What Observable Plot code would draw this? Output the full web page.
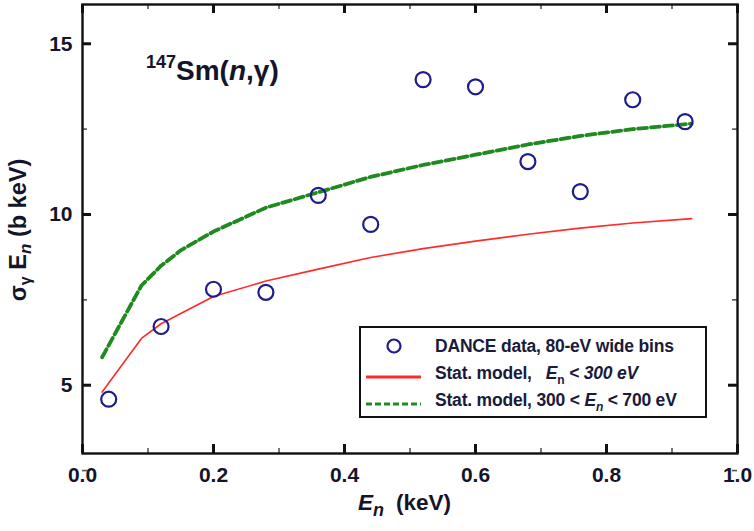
<!DOCTYPE html>
<html><head><meta charset="utf-8">
<script src="https://cdn.jsdelivr.net/npm/d3@7"></script>
<script src="https://cdn.jsdelivr.net/npm/@observablehq/plot@0.6"></script>
<style>
html,body{margin:0;padding:0;background:#fff;}
#wrap{position:relative;width:754px;height:531px;font-family:"Liberation Sans",Arial,sans-serif;color:#111;}
#wrap svg.plot{position:absolute;left:0;top:0;}
.ov{position:absolute;white-space:nowrap;font-weight:bold;}
</style></head>
<body><div id="wrap"></div>
<script>
// Data
const dataX = [0.04,0.12,0.20,0.28,0.36,0.44,0.52,0.60,0.68,0.76,0.84,0.92];
const dataY = [4.59,6.72,7.81,7.72,10.56,9.71,13.95,13.74,11.55,10.67,13.36,12.72];
const modelX = [0.03,0.09,0.12,0.15,0.20,0.28,0.36,0.44,0.52,0.60,0.68,0.76,0.84,0.93];
const redY   = [4.80,6.37,6.80,7.10,7.60,8.05,8.40,8.74,9.00,9.22,9.42,9.60,9.75,9.88];
const greenY = [5.82,7.92,8.50,8.95,9.50,10.20,10.65,11.10,11.45,11.75,12.05,12.30,12.50,12.66];
const xMajor = [0,0.2,0.4,0.6,0.8,1.0];
const xMinor = [0.1,0.3,0.5,0.7,0.9];
const yMajor = [5,10,15];
const yMinor = [2.5,7.5,12.5];
const legendLabels = ["DANCE data, 80-eV wide bins","Stat. model,","Stat. model, 300 <"];

const pts = dataX.map((x,i)=>({x, y:dataY[i]}));
const red = modelX.map((x,i)=>({x, y:redY[i]}));
const green = modelX.map((x,i)=>({x, y:greenY[i]}));

const W = 754, H = 531, ML = 82, MR = 17, MT = 4, MB = 78;
const FW = W - ML - MR, FH = H - MT - MB;
function inTicks(values, axis, side, len, sw, color) {
  const o = {stroke: color, strokeWidth: sw};
  if (axis === "x") {
    o.x = d => d;
    if (side === "bottom") o.insetTop = FH - len; else o.insetBottom = FH - len;
    return Plot.ruleX(values, o);
  } else {
    o.y = d => d;
    if (side === "left") o.insetRight = FW - len; else o.insetLeft = FW - len;
    return Plot.ruleY(values, o);
  }
}
const MJ = 9, MN = 5;
const plot = Plot.plot({
  width: W, height: H,
  marginLeft: ML, marginRight: MR, marginTop: MT, marginBottom: MB,
  style: {fontFamily: '"Liberation Sans", Arial, sans-serif', background: "#fff"},
  x: {domain: [0, 1.0]},
  y: {domain: [3.0, 16.15]},
  marks: [
    Plot.line(red, {x:"x", y:"y", stroke:"#ff2a2a", strokeWidth:1.6}),
    Plot.line(green, {x:"x", y:"y", stroke:"#1f8a1f", strokeWidth:3.8, strokeDasharray:"9,4"}),
    Plot.dot(pts, {x:"x", y:"y", r:7.5, stroke:"#1c1c8c", strokeWidth:2.2, fill:"none"}),
    Plot.axisX({ticks: xMajor, tickSize: 0, tickPadding: 14, tickFormat: d3.format(".1f"), fontSize: 21, fontWeight: "bold", label: null, fill:"#14142a"}),
    Plot.axisY({ticks: yMajor, tickSize: 0, tickPadding: 10, tickFormat: d3.format("d"), fontSize: 21, fontWeight: "bold", label: null, fill:"#14142a"}),
    inTicks(xMajor, "x", "bottom", MJ, 3, "#111"),
    inTicks(xMajor, "x", "top", MJ, 3, "#111"),
    inTicks(yMajor, "y", "left", MJ, 3, "#111"),
    inTicks(yMajor, "y", "right", MJ, 3, "#111"),
    inTicks(xMinor, "x", "bottom", MN, 1.6, "#555"),
    inTicks(xMinor, "x", "top", MN, 1.6, "#555"),
    inTicks(yMinor, "y", "left", MN, 1.6, "#555"),
    inTicks(yMinor, "y", "right", MN, 1.6, "#555"),
    Plot.frame({stroke:"#111", strokeWidth: 2.4})
  ]
});
plot.classList.add("plot");
const wrap = document.getElementById("wrap");
wrap.appendChild(plot);

function ov(html, css){ const d=document.createElement("div"); d.className="ov"; d.innerHTML=html; Object.assign(d.style, css); wrap.appendChild(d); return d; }

// annotation
ov('<span style="font-size:18px;position:relative;top:-12px;">147</span>Sm(<i>n</i>,γ)', {left:"146px", top:"55px", fontSize:"28px", fontWeight:"bold", color:"#14142a"});
// x label
ov('<i>E<sub style="font-size:18px;vertical-align:-6px;">n</sub></i><span style="margin-left:12px">(keV)</span>', {left:"358px", top:"490px", fontSize:"22.5px", color:"#14142a"});
// y label
ov('σ<sub style="font-size:16px;vertical-align:-5px;">γ</sub>&nbsp;E<sub style="font-size:17px;vertical-align:-5px;"><i>n</i></sub>&nbsp;(b keV)', {left:"20px", top:"230px", fontSize:"23.5px", color:"#14142a", transform:"translate(-50%,-50%) rotate(-90deg)"});

// legend
const lg = document.createElement("div");
Object.assign(lg.style, {position:"absolute", left:"359px", top:"326px", width:"348px", height:"92px", border:"2px solid #111", background:"#fff", boxSizing:"border-box"});
wrap.appendChild(lg);
const rows = [
  {sym:'<svg width="60" height="16"><circle cx="33" cy="8" r="6.5" fill="none" stroke="#1c1c8c" stroke-width="2.2"/></svg>', text: legendLabels[0]},
  {sym:'<svg width="60" height="16"><line x1="5" x2="60" y1="8" y2="8" stroke="#ff2a2a" stroke-width="3.2"/></svg>', text: legendLabels[1] + '&nbsp;&nbsp; <i>E<sub style="font-size:12px;vertical-align:-5px;font-style:normal">n</sub> &lt; 300 eV</i>'},
  {sym:'<svg width="60" height="16"><line x1="5" x2="60" y1="8" y2="8" stroke="#1f8a1f" stroke-width="3.2" stroke-dasharray="6,3"/></svg>', text: legendLabels[2] + ' <i>E<sub style="font-size:12px;vertical-align:-5px">n</sub></i> &lt; 700 eV'}
];
rows.forEach((r,i)=>{
  const row = document.createElement("div");
  Object.assign(row.style, {position:"absolute", left:"0px", top:(8+i*27)+"px", display:"flex", alignItems:"center", fontSize:"17.5px", fontWeight:"bold", letterSpacing:"-0.2px", color:"#1a1a3a", whiteSpace:"nowrap", lineHeight:"20px"});
  row.innerHTML = r.sym + '<span style="margin-left:14px">' + r.text + '</span>';
  lg.appendChild(row);
});
</script></body></html>
